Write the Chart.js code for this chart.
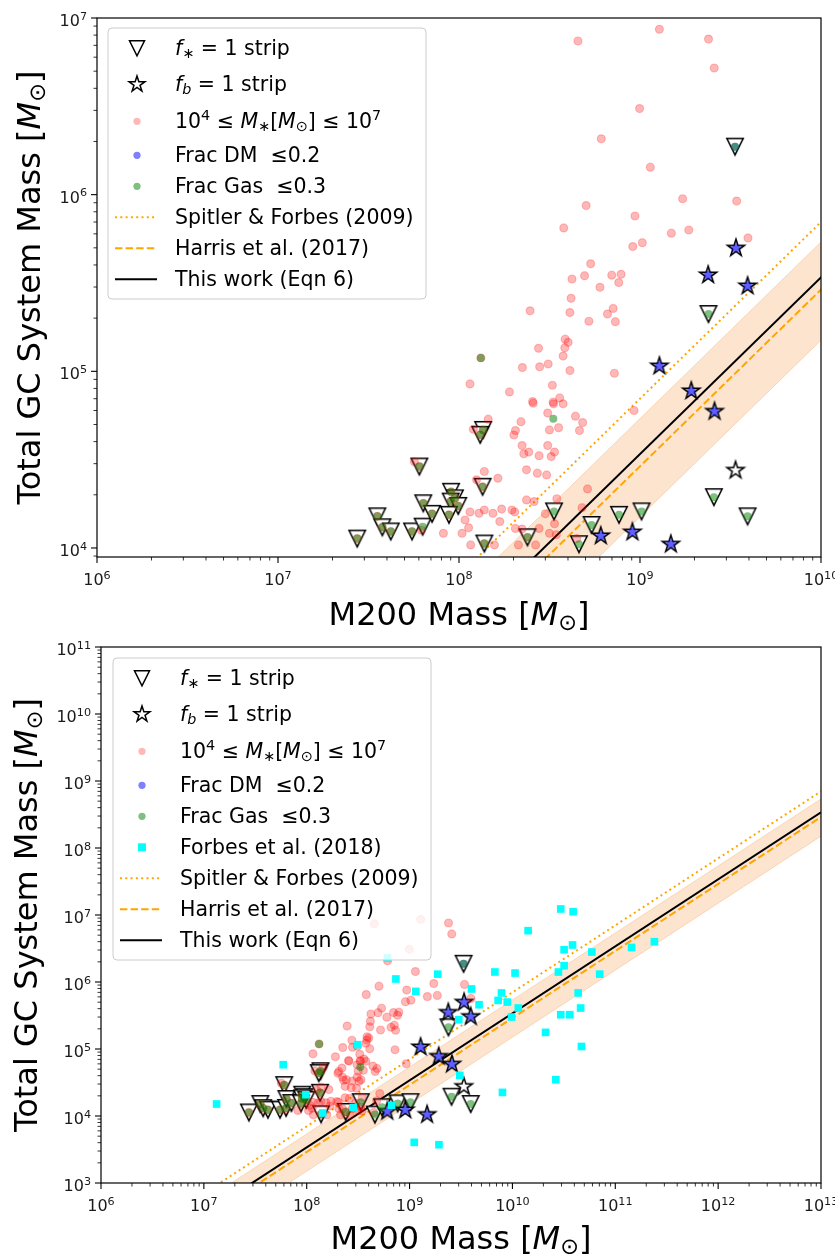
<!DOCTYPE html>
<html>
<head>
<meta charset="utf-8">
<script src="https://cdn.jsdelivr.net/npm/chart.js@4.4.0/dist/chart.umd.min.js"></script>
<style>
  body { margin: 0; background: #fff; }
  #wrap { position: relative; width: 835px; height: 1254px; overflow: hidden; }
  canvas { position: absolute; left: 0; }
  #bottom { top: 627px; }
  #top { top: 0; z-index: 2; }
</style>
</head>
<body>
<div id="wrap">
  <canvas id="top" width="835" height="640"></canvas>
  <canvas id="bottom" width="835" height="627"></canvas>
</div>
<script>
// ---- values, [M200, M_GC] pairs ----
const triangles = [
  [2.74e7, 1.13e4], [3.54e7, 1.51e4], [3.77e7, 1.31e4], [4.2e7, 1.24e4], [5.5e7, 1.24e4],
  [6.3e7, 1.32e4], [6.04e7, 2.89e4], [6.35e7, 1.79e4], [7.1e7, 1.56e4], [1.36e8, 4.66e4],
  [1.31e8, 4.37e4], [1.35e8, 2.22e4], [9.04e7, 2.08e4], [9.5e7, 1.91e4], [9.0e7, 1.83e4],
  [9.9e7, 1.73e4], [8.8e7, 1.54e4], [1.38e8, 1.06e4], [2.39e8, 1.15e4], [3.35e8, 1.61e4],
  [4.6e8, 1.05e4], [5.4e8, 1.35e4], [7.66e8, 1.54e4], [1.02e9, 1.61e4], [2.56e9, 1.94e4],
  [3.93e9, 1.51e4], [2.39e9, 2.11e5], [3.35e9, 1.87e6]
];
const stars = [
  [3.39e9, 4.98e5], [2.38e9, 3.51e5], [3.93e9, 3.04e5], [1.28e9, 1.07e5], [1.92e9, 7.74e4],
  [2.58e9, 5.93e4], [6.07e8, 1.17e4], [9.08e8, 1.23e4], [1.48e9, 1.05e4], [3.37e9, 2.75e4]
];
const redDots = [
  [4.54e8, 7.41e6], [1.28e9, 8.63e6], [2.39e9, 7.6e6], [2.57e9, 5.21e6], [9.95e8, 3.07e6],
  [6.11e8, 2.07e6], [1.14e9, 1.43e6], [3.42e9, 9.2e5], [1.72e9, 9.48e5], [5.04e8, 8.67e5],
  [9.38e8, 7.57e5], [3.79e8, 6.48e5], [3.95e9, 5.69e5], [1.86e9, 6.31e5], [1.49e9, 6.05e5],
  [1.03e9, 5.35e5], [9.12e8, 5.08e5], [5.34e8, 4.06e5], [4.21e8, 3.33e5], [4.94e8, 3.48e5],
  [6.98e8, 3.5e5], [7.86e8, 3.54e5], [7.63e8, 3.18e5], [6.01e8, 2.99e5], [4.16e8, 2.59e5],
  [2.47e8, 2.2e5], [4.1e8, 2.15e5], [7.11e8, 2.27e5], [6.61e8, 2.11e5], [5.22e8, 1.92e5],
  [7.31e8, 1.91e5], [3.86e8, 1.52e5], [4.01e8, 1.46e5], [2.75e8, 1.35e5], [3.84e8, 1.36e5],
  [3.76e8, 1.22e5], [2.24e8, 1.05e5], [2.79e8, 1.06e5], [3.11e8, 1.1e5], [4.1e8, 1.01e5],
  [7.22e8, 9.75e4], [1.15e8, 8.48e4], [3.28e8, 8.34e4], [1.9e8, 7.64e4], [2.55e8, 6.74e4],
  [2.57e8, 6.6e4], [3.31e8, 6.69e4], [3.33e8, 6.55e4], [3.6e8, 7.07e4], [3.76e8, 6.55e4],
  [9.27e8, 6.0e4], [3.09e8, 5.8e4], [4.4e8, 5.57e4], [4.82e8, 5.13e4], [1.45e8, 5.36e4],
  [2.2e8, 5.19e4], [1.2e8, 4.7e4], [2.05e8, 4.62e4], [3.16e8, 4.66e4], [3.55e8, 4.8e4],
  [4.63e8, 4.62e4], [2.01e8, 4.36e4], [2.23e8, 3.8e4], [3.09e8, 3.8e4], [2.28e8, 3.41e4],
  [2.43e8, 3.49e4], [2.77e8, 3.33e4], [3.23e8, 3.29e4], [3.37e8, 3.49e4], [2.36e8, 2.77e4],
  [2.71e8, 2.65e4], [3.05e8, 2.59e4], [1.38e8, 2.71e4], [1.64e8, 2.48e4], [1.25e8, 2.43e4],
  [5.13e8, 2.16e4], [2.36e8, 1.87e4], [2.6e8, 1.83e4], [3.47e8, 1.9e4], [4.78e8, 1.69e4],
  [1.15e8, 1.6e4], [1.38e8, 1.64e4], [1.29e8, 1.57e4], [1.54e8, 1.57e4], [1.72e8, 1.66e4],
  [1.96e8, 1.64e4], [2.03e8, 1.6e4], [3.0e8, 1.56e4], [1.08e8, 1.44e4], [1.68e8, 1.41e4],
  [1.13e8, 1.3e4], [2.05e8, 1.29e4], [2.23e8, 1.28e4], [2.77e8, 1.29e4], [3.37e8, 1.37e4],
  [3.16e8, 1.21e4], [8.2e7, 1.21e4], [1.04e8, 1.21e4], [1.16e8, 1.04e4], [1.57e8, 1.04e4],
  [2.13e8, 1.04e4], [2.65e8, 1.04e4], [4.47e8, 1.13e4], [3.45e8, 1.19e4], [5.67e7, 3.08e4],
  [6.2e7, 1.26e4],
  [2.74e7, 1.13e4], [3.54e7, 1.51e4], [3.77e7, 1.31e4], [4.2e7, 1.24e4], [5.5e7, 1.24e4],
  [6.04e7, 2.89e4], [6.35e7, 1.79e4], [7.1e7, 1.56e4], [1.36e8, 4.66e4], [1.31e8, 4.37e4],
  [1.35e8, 2.22e4], [9.04e7, 2.08e4], [9.5e7, 1.91e4], [9.0e7, 1.83e4], [9.9e7, 1.73e4],
  [8.8e7, 1.54e4], [1.38e8, 1.06e4], [2.39e8, 1.15e4], [1.32e8, 1.19e5]
];
const blueDots = [
  [3.39e9, 4.98e5], [2.38e9, 3.51e5], [3.93e9, 3.04e5], [1.28e9, 1.07e5], [1.92e9, 7.74e4],
  [2.58e9, 5.93e4], [6.07e8, 1.17e4], [9.08e8, 1.23e4], [1.48e9, 1.05e4], [3.35e9, 1.87e6]
];
const greenDots = triangles.concat([[1.32e8, 1.19e5], [3.32e8, 5.39e4]]);
const forbes2018 = [
  [1.33e7, 1.51e4], [5.91e7, 5.83e4], [9.82e7, 2.08e4], [1.43e8, 1.11e4], [3.13e8, 1.16e5],
  [2.83e8, 1.34e4], [6.1e8, 2.28e6], [7.36e8, 1.11e6], [1.15e9, 7.24e5], [6.68e8, 1.44e4],
  [1.11e9, 4.04e3], [1.93e9, 3.73e3], [1.42e10, 5.84e6], [3.18e10, 3.03e6], [3.84e10, 3.57e6],
  [5.92e10, 2.8e6], [1.44e11, 3.28e6], [2.4e11, 3.99e6], [3.18e10, 1.75e6], [2.8e10, 1.41e6],
  [7.06e10, 1.31e6], [6.75e9, 1.41e6], [1.06e10, 1.36e6], [1.88e9, 1.31e6], [4.0e9, 7.87e5],
  [7.83e9, 6.86e5], [7.26e9, 5.31e5], [8.9e9, 5.02e5], [4.74e9, 4.58e5], [1.14e10, 4.09e5],
  [9.8e9, 3.0e5], [3.01e9, 2.74e5], [4.36e10, 6.86e5], [4.6e10, 4.09e5], [2.95e10, 3.25e5],
  [3.61e10, 3.25e5], [2.1e10, 1.77e5], [4.69e10, 1.09e5], [2.64e10, 3.48e4], [8.0e9, 2.25e4],
  [3.08e9, 4.04e4], [2.95e10, 1.23e7], [3.89e10, 1.12e7]
];
// relations: M_GC at the two ends M200 = 1e6 and 1e13
const lineX = [1e6, 1e13];
const thisWork = [34, 3.4e8];
const thisWorkHi = [54, 5.4e8];
const thisWorkLo = [15, 1.5e8];
const spitler = [70, 7e8];
const harris = [29, 2.9e8];

const FONT = '"DejaVu Sans", sans-serif';
const ORANGE = '#ffa500';
const SUP = '⁰¹²³⁴⁵⁶⁷⁸⁹';
const TICK_SIZE = 16;

const pts = a => a.map(p => ({ x: p[0], y: p[1] }));
const linePts = ys => lineX.map((x, i) => ({ x: x, y: ys[i] }));

function isPow10(v) {
  const e = Math.log10(v);
  return Math.abs(e - Math.round(e)) < 1e-6;
}
function powLabel(v) {
  if (!isPow10(v)) return '';
  return '10' + String(Math.round(Math.log10(v))).split('').map(d => SUP[+d]).join('');
}

function fillLogTicks(scale) {
  const lo = Math.floor(Math.log10(scale.min) + 1e-9), hi = Math.ceil(Math.log10(scale.max) - 1e-9);
  const out = [];
  for (let e = lo; e <= hi; e++) {
    for (let m = 1; m <= 9; m++) {
      const v = m * Math.pow(10, e);
      if (v >= scale.min * (1 - 1e-9) && v <= scale.max * (1 + 1e-9)) out.push({ value: v });
    }
  }
  scale.ticks = out;
}

// marker images (matplotlib style 'v' and '*')
function triPath(g, cx, cy, h) {
  g.beginPath();
  g.moveTo(cx - h, cy - h); g.lineTo(cx + h, cy - h); g.lineTo(cx, cy + h); g.closePath();
}
function starPath(g, cx, cy, R, r) {
  g.beginPath();
  for (let i = 0; i < 10; i++) {
    const a = -Math.PI / 2 + i * Math.PI / 5;
    const rad = i % 2 ? r : R;
    g.lineTo(cx + rad * Math.cos(a), cy + rad * Math.sin(a));
  }
  g.closePath();
}
function markerImg(kind, size, fill) {
  const c = document.createElement('canvas');
  c.width = c.height = 26;
  const g = c.getContext('2d');
  if (kind === 'tri') triPath(g, 13, 13, size);
  else starPath(g, 13, 13, size, size * 0.382);
  g.fillStyle = fill; g.fill();
  g.lineWidth = 1.5; g.strokeStyle = '#000'; g.lineJoin = 'miter'; g.stroke();
  return c;
}
const TRI_IMG = markerImg('tri', 8.2, '#fff');
const STAR_IMG = markerImg('star', 9, '#fff');
const STAR_BLUE_IMG = markerImg('star', 9, '#a0a0fa');
const hasBlue = p => blueDots.some(b => b[0] === p[0] && b[1] === p[1]);

// rich text (italic / sub / sup pieces)
const T = t => ({ t });
const I = t => ({ t, it: true });
const Sub = t => ({ t, sub: true });
const SubI = t => ({ t, sub: true, it: true });
const Sup = t => ({ t, sup: true });

function segFont(seg, size) {
  const s = (seg.sub || seg.sup) ? size * 0.7 : size;
  return (seg.it ? 'italic ' : '') + s + 'px ' + FONT;
}
function richWidth(ctx, segs, size) {
  let w = 0;
  segs.forEach(seg => { ctx.font = segFont(seg, size); w += ctx.measureText(seg.t).width; });
  return w;
}
function drawRich(ctx, segs, x, y, size, center) {
  let cx = center ? x - richWidth(ctx, segs, size) / 2 : x;
  ctx.textAlign = 'left';
  ctx.textBaseline = 'alphabetic';
  segs.forEach(seg => {
    ctx.font = segFont(seg, size);
    const dy = seg.sub ? size * 0.15 : seg.sup ? -size * 0.4 : 0;
    ctx.fillText(seg.t, cx, y + dy);
    cx += ctx.measureText(seg.t).width;
  });
}
const tickSegs = v => [T('10'), Sup(String(Math.round(Math.log10(v))))];

const yTitle = [T('Total GC System Mass ['), I('M'), Sub('⊙'), T(']')];
const xTitle = [T('M200 Mass ['), I('M'), Sub('⊙'), T(']')];

const legendItems = [
  { kind: 'tri', text: [I('f'), Sub('∗'), T(' = 1 strip')] },
  { kind: 'star', text: [I('f'), SubI('b'), T(' = 1 strip')] },
  { kind: 'dot', color: 'rgba(255,0,0,0.28)', text: [T('10'), Sup('4'), T(' ≤ '), I('M'), Sub('∗'), T('['), I('M'), Sub('⊙'), T('] ≤ 10'), Sup('7')] },
  { kind: 'dot', color: 'rgba(0,0,255,0.5)', text: [T('Frac DM  ≤0.2')] },
  { kind: 'dot', color: 'rgba(0,128,0,0.5)', text: [T('Frac Gas  ≤0.3')] },
  { kind: 'square', forbes: true, text: [T('Forbes et al. (2018)')] },
  { kind: 'line', dash: [2, 3.3], color: ORANGE, text: [T('Spitler & Forbes (2009)')] },
  { kind: 'line', dash: [7.4, 3.2], color: ORANGE, text: [T('Harris et al. (2017)')] },
  { kind: 'line', dash: [], color: '#000', text: [T('This work (Eqn 6)')] }
];
const legendBase = [27, 63, 100, 134, 165, 196, 227, 258, 289];

function roundRect(ctx, x, y, w, h, r) {
  ctx.beginPath();
  ctx.moveTo(x + r, y);
  ctx.arcTo(x + w, y, x + w, y + h, r);
  ctx.arcTo(x + w, y + h, x, y + h, r);
  ctx.arcTo(x, y + h, x, y, r);
  ctx.arcTo(x, y, x + w, y, r);
  ctx.closePath();
}

function drawLegend(ctx, bx, by, withForbes) {
  const items = legendItems.filter(it => withForbes || !it.forbes);
  const h = legendBase[items.length - 1] + 13;
  ctx.save();
  roundRect(ctx, bx, by, 318, h, 4);
  ctx.fillStyle = 'rgba(255,255,255,0.8)';
  ctx.fill();
  ctx.strokeStyle = '#cccccc';
  ctx.lineWidth = 1;
  ctx.stroke();
  items.forEach((it, i) => {
    const base = by + legendBase[i];
    const my = base - 6.7;
    const mx = bx + 29;
    if (it.kind === 'tri' || it.kind === 'star') {
      if (it.kind === 'tri') triPath(ctx, mx, my, 7.5);
      else starPath(ctx, mx, my, 8.3, 8.3 * 0.382);
      ctx.fillStyle = '#fff'; ctx.fill();
      ctx.lineWidth = 1.5; ctx.strokeStyle = '#000'; ctx.lineJoin = 'miter'; ctx.stroke();
    } else if (it.kind === 'dot') {
      ctx.beginPath(); ctx.arc(mx, my, 3.6, 0, Math.PI * 2);
      ctx.fillStyle = it.color; ctx.fill();
    } else if (it.kind === 'square') {
      ctx.fillStyle = '#00ffff'; ctx.fillRect(mx - 4, my - 4, 8, 8);
    } else {
      ctx.beginPath(); ctx.moveTo(bx + 7, my); ctx.lineTo(bx + 49, my);
      ctx.setLineDash(it.dash); ctx.strokeStyle = it.color; ctx.lineWidth = 2; ctx.stroke();
      ctx.setLineDash([]);
    }
    ctx.fillStyle = '#000';
    drawRich(ctx, it.text, bx + 67, base, 20.5, false);
  });
  ctx.restore();
}

function decorPlugin(p) {
  return {
    id: 'decor',
    afterDraw(chart) {
      const ctx = chart.ctx, a = chart.chartArea;
      const xs = chart.scales.x, ys = chart.scales.y;
      ctx.save();
      ctx.strokeStyle = '#000';
      ctx.fillStyle = '#1a1a1a';
      // ticks outward like matplotlib, labels with real superscripts
      xs.ticks.forEach(t => {
        const px = xs.getPixelForValue(t.value);
        const major = isPow10(t.value);
        ctx.lineWidth = major ? 1.1 : 0.8;
        ctx.beginPath(); ctx.moveTo(px, a.bottom); ctx.lineTo(px, a.bottom + (major ? 6 : 3.5)); ctx.stroke();
        if (major) drawRich(ctx, tickSegs(t.value), px, a.bottom + 28, TICK_SIZE, true);
      });
      ys.ticks.forEach(t => {
        const py = ys.getPixelForValue(t.value);
        const major = isPow10(t.value);
        ctx.lineWidth = major ? 1.1 : 0.8;
        ctx.beginPath(); ctx.moveTo(a.left, py); ctx.lineTo(a.left - (major ? 6 : 3.5), py); ctx.stroke();
        if (major) {
          const segs = tickSegs(t.value);
          drawRich(ctx, segs, a.left - 10 - richWidth(ctx, segs, TICK_SIZE), py + 8, TICK_SIZE, false);
        }
      });
      // frame
      ctx.lineWidth = 1.2;
      ctx.strokeRect(a.left, a.top, a.right - a.left, a.bottom - a.top);
      // axis titles
      ctx.fillStyle = '#000';
      drawRich(ctx, xTitle, (a.left + a.right) / 2, p.xTitleBase, 32, true);
      ctx.save();
      ctx.translate(p.yTitleBase, (a.top + a.bottom) / 2);
      ctx.rotate(-Math.PI / 2);
      drawRich(ctx, yTitle, 0, 0, 32, true);
      ctx.restore();
      ctx.restore();
      drawLegend(ctx, a.left + p.legendOff[0], a.top + p.legendOff[1], p.forbes);
    }
  };
}

function makeDatasets(withForbes) {
  const band = 'rgba(244,164,96,0.35)';
  const ds = [
    { type: 'line', label: 'band upper', data: linePts(thisWorkHi), borderColor: band, borderWidth: 1,
      backgroundColor: 'rgba(244,164,96,0.3)', fill: '+1', pointRadius: 0, order: 12 },
    { type: 'line', label: 'band lower', data: linePts(thisWorkLo), borderColor: band, borderWidth: 1,
      fill: false, pointRadius: 0, order: 13 },
    { type: 'line', label: 'Spitler & Forbes (2009)', data: linePts(spitler), borderColor: ORANGE,
      borderWidth: 2, borderDash: [2, 3.3], fill: false, pointRadius: 0, order: 10 },
    { type: 'line', label: 'Harris et al. (2017)', data: linePts(harris), borderColor: ORANGE,
      borderWidth: 2, borderDash: [7.4, 3.2], fill: false, pointRadius: 0, order: 9 },
    { type: 'line', label: 'This work (Eqn 6)', data: linePts(thisWork), borderColor: '#000',
      borderWidth: 2, fill: false, pointRadius: 0, order: 8 },
    { label: 'f* = 1 strip', data: pts(triangles), pointStyle: TRI_IMG, order: 7 },
    { label: 'fb = 1 strip', data: pts(stars), pointStyle: stars.map(s => hasBlue(s) ? STAR_BLUE_IMG : STAR_IMG), order: 6 },
    { label: '1e4 <= M* <= 1e7', data: pts(redDots), pointRadius: 4,
      pointBackgroundColor: 'rgba(255,0,0,0.28)', pointBorderColor: 'rgba(255,0,0,0.22)', pointBorderWidth: 1.2, order: 5 },
    { label: 'Frac DM <= 0.2', data: pts(blueDots), pointRadius: 4,
      pointBackgroundColor: 'rgba(0,0,255,0.4)', pointBorderWidth: 0, order: 4 },
    { label: 'Frac Gas <= 0.3', data: pts(greenDots), pointRadius: 4,
      pointBackgroundColor: 'rgba(0,128,0,0.5)', pointBorderWidth: 0, order: 3 }
  ];
  if (withForbes) {
    ds.push({ label: 'Forbes et al. (2018)', data: pts(forbes2018), pointStyle: 'rect', pointRadius: 5.4,
      pointBackgroundColor: '#00ffff', pointBorderWidth: 0, order: 1 });
  }
  return ds;
}

function axis(min, max, fitFn) {
  return {
    type: 'logarithmic', min: min, max: max, bounds: 'data',
    grid: { display: false }, border: { display: false },
    ticks: { display: false, autoSkip: false, callback: v => powLabel(v) },
    afterBuildTicks: fillLogTicks,
    afterFit: fitFn
  };
}

function makePanel(id, p) {
  return new Chart(document.getElementById(id), {
    type: 'scatter',
    data: { datasets: makeDatasets(p.forbes) },
    options: {
      responsive: false, animation: false, events: [],
      layout: { padding: { top: p.top, right: 14, left: 0, bottom: 0 } },
      plugins: { legend: { display: false }, tooltip: { enabled: false } },
      scales: {
        x: axis(p.xMin, p.xMax, s => { s.height = p.xAxisH; s.paddingLeft = 0; s.paddingRight = 0; }),
        y: axis(p.yMin, p.yMax, s => { s.width = p.yAxisW; s.paddingTop = 0; s.paddingBottom = 0; })
      }
    },
    plugins: [decorPlugin(p)]
  });
}

makePanel('top', { xMin: 1e6, xMax: 1e10, yMin: 8890, yMax: 1e7, top: 18, yAxisW: 97, xAxisH: 83,
  xTitleBase: 625, yTitleBase: 40, legendOff: [11, 10], forbes: false });
makePanel('bottom', { xMin: 1e6, xMax: 1e13, yMin: 1e3, yMax: 1e11, top: 20, yAxisW: 101, xAxisH: 71,
  xTitleBase: 622, yTitleBase: 37, legendOff: [12, 11], forbes: true });
</script>
</body>
</html>
